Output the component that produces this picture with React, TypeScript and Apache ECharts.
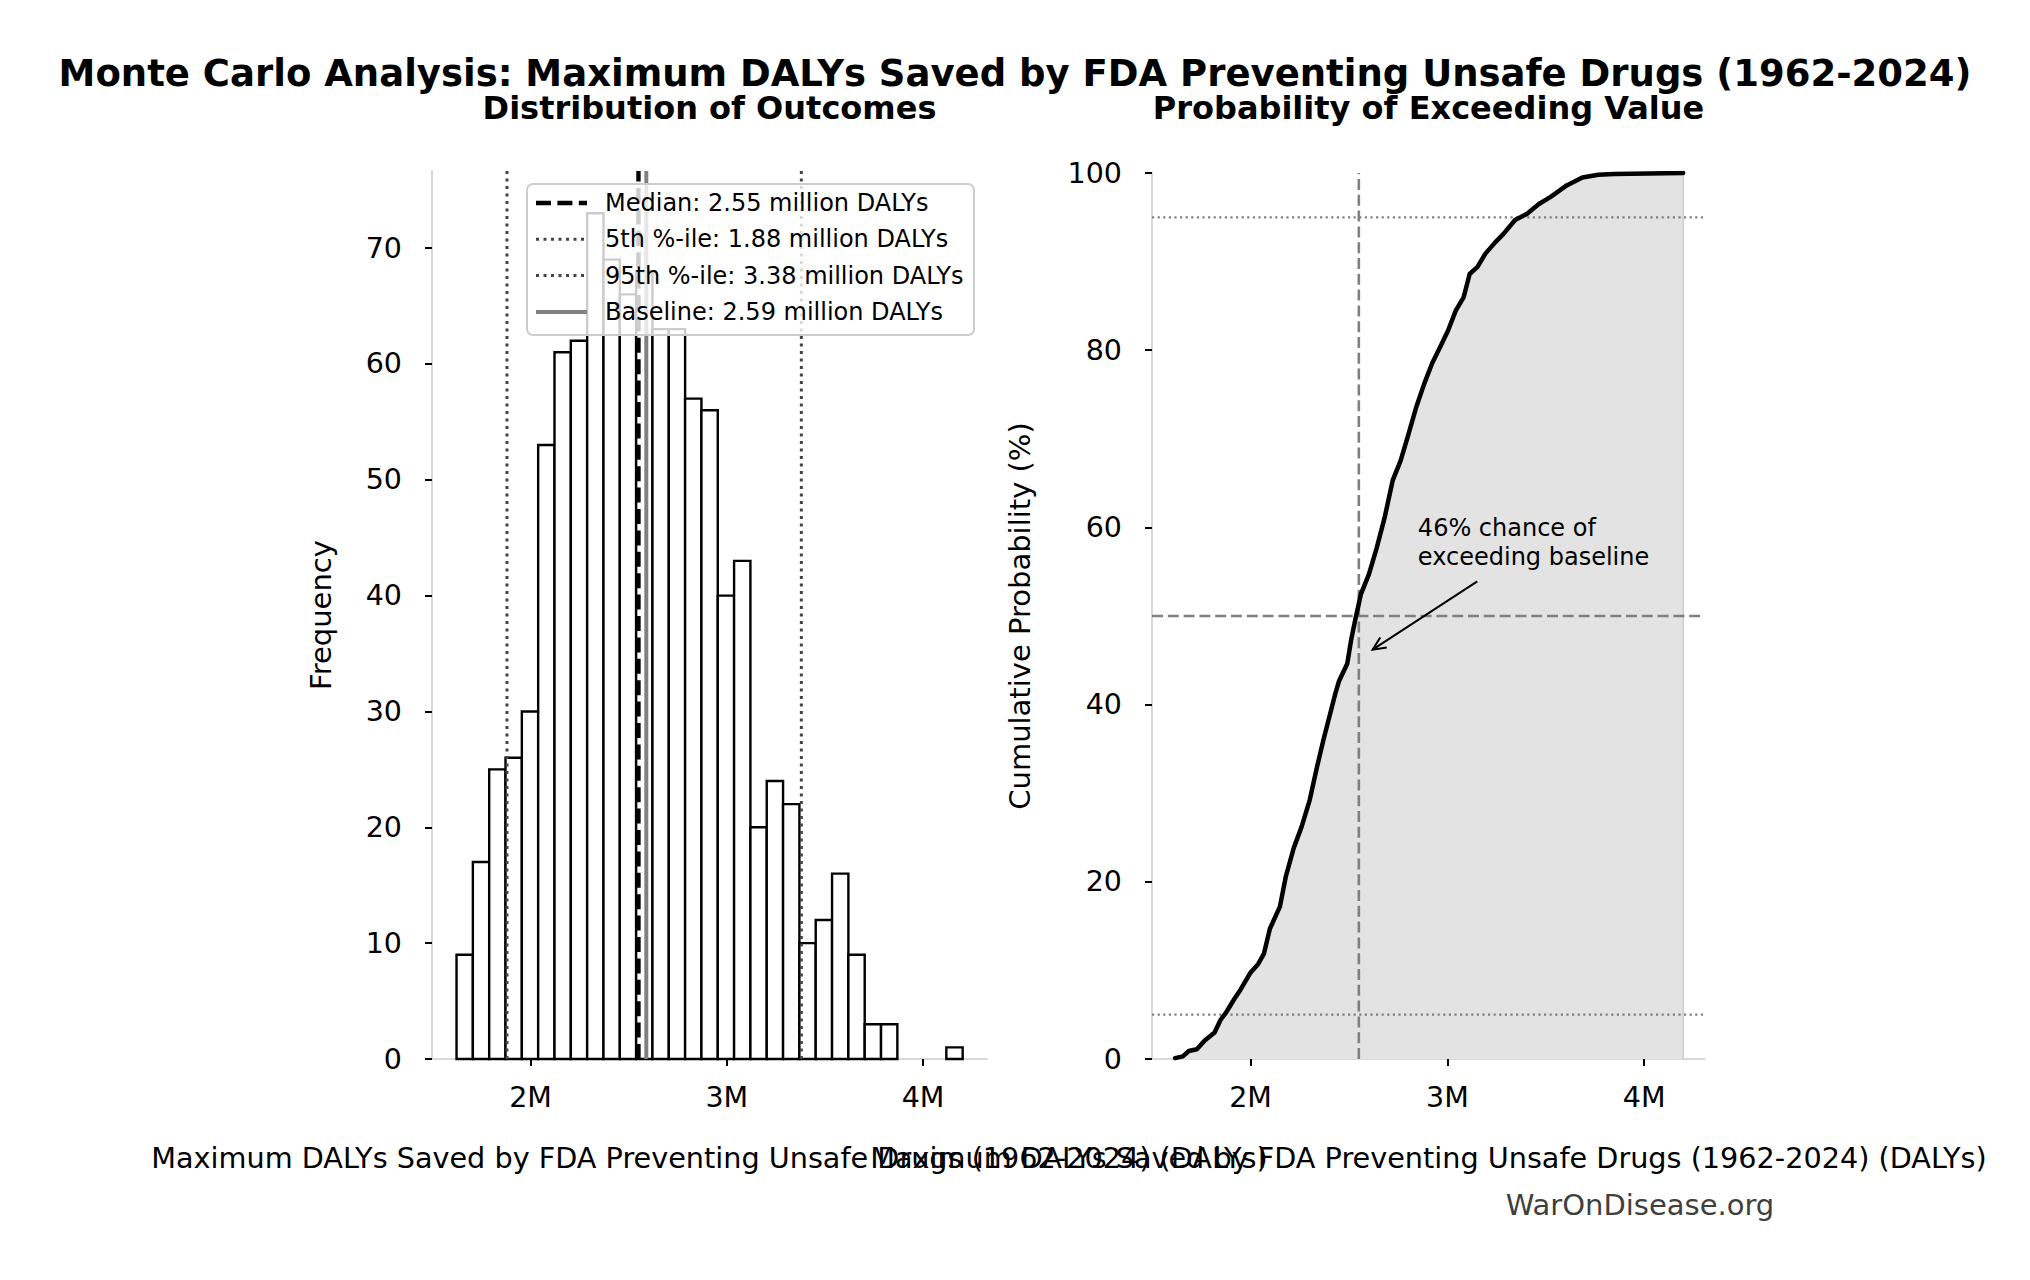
import React, { useEffect, useRef } from "react";
import * as echarts from "echarts";

const FONT = '"DejaVu Sans"';

// ---- Data (values in million DALYs) ----
const histBinMin = 1.623;
const histBinMax = 4.202;
const histCounts = [9, 17, 25, 26, 30, 53, 61, 62, 73, 69, 66, 68, 63, 63, 57, 56, 40, 43, 20, 24, 22, 10, 12, 16, 9, 3, 3, 0, 0, 0, 1];
const histYMax = 76.65;

const medianValue = 2.55;
const p5Value = 1.88;
const p95Value = 3.38;
const baselineValue = 2.59;

const cdfX = [1.616, 1.656, 1.686, 1.727, 1.767, 1.817, 1.847, 1.877, 1.918, 1.948, 1.998, 2.038, 2.068, 2.098, 2.149, 2.179, 2.219, 2.259, 2.3, 2.34, 2.37, 2.4, 2.43, 2.45, 2.491, 2.511, 2.531, 2.561, 2.601, 2.641, 2.681, 2.722, 2.762, 2.802, 2.842, 2.882, 2.922, 2.962, 3.003, 3.043, 3.083, 3.113, 3.153, 3.193, 3.244, 3.284, 3.344, 3.405, 3.465, 3.525, 3.606, 3.686, 3.767, 3.847, 4.198];
const cdfY = [0.1, 0.3, 0.9, 1.1, 2.1, 3.0, 4.4, 5.3, 6.8, 7.8, 9.7, 10.7, 11.9, 14.7, 17.2, 20.6, 23.8, 26.2, 29.2, 33.2, 36.0, 38.6, 41.2, 42.7, 44.6, 47.3, 49.5, 52.5, 54.7, 57.7, 61.1, 65.3, 67.5, 70.5, 73.6, 76.2, 78.5, 80.3, 82.2, 84.5, 86.0, 88.6, 89.4, 90.9, 92.2, 93.1, 94.7, 95.4, 96.5, 97.3, 98.6, 99.5, 99.8, 99.9, 100];

const xTickValues = [2, 3, 4];
const histYTicks = [0, 10, 20, 30, 40, 50, 60, 70];
const cdfYTicks = [0, 20, 40, 60, 80, 100];

const exceedChance = 46;
const xMinHist = 1.498;
const xMaxHist = 4.326;
const xMinCdf = 1.499;
const xMaxCdf = 4.309;

const mainTitle = "Monte Carlo Analysis: Maximum DALYs Saved by FDA Preventing Unsafe Drugs (1962-2024)";
const subTitles = ["Distribution of Outcomes", "Probability of Exceeding Value"];
const xAxisName = "Maximum DALYs Saved by FDA Preventing Unsafe Drugs (1962-2024) (DALYs)";
const watermark = "WarOnDisease.org";

// annotation anchors in data coordinates (million DALYs, %)
const arrowTip = [2.62, 46.2];
const arrowTail = [3.152, 53.9];
const annotAnchor = [2.85, 58.3];

const fmt = (v: number) => v.toFixed(2);

export default function App() {
  const ref = useRef<HTMLDivElement>(null);

  useEffect(() => {
    const chart = echarts.init(ref.current!, null, { renderer: "svg" });
    const binW = (histBinMax - histBinMin) / histCounts.length;
    const histData = histCounts
      .map((c, i) => [histBinMin + i * binW, histBinMin + (i + 1) * binW, c])
      .filter((d) => d[2] > 0);
    const cdfData = cdfX.map((x, i) => [x, cdfY[i]]);

    const axisLineStyle = { color: "#d9d9d9", width: 2 };
    const tickStyle = { show: true, length: 7, inside: false, lineStyle: { color: "#000", width: 2 } };
    const labelStyle = { color: "#000", fontSize: 28.5, fontFamily: FONT };
    const nameStyle = { color: "#000", fontSize: 29, fontFamily: FONT };
    const xNameStyle = { color: "#000", fontSize: 28.7, fontFamily: FONT };

    const vline = (xi: number, yi: number, v: number, y0: number, y1: number, color: string, width: number, type: any, z: number) => ({
      type: "line",
      xAxisIndex: xi,
      yAxisIndex: yi,
      data: [[v, y0], [v, y1]],
      symbol: "none",
      silent: true,
      z,
      lineStyle: { color, width, type, cap: "butt" },
    });
    const hline = (xi: number, yi: number, v: number, x0: number, x1: number, color: string, width: number, type: any, z: number) => ({
      type: "line",
      xAxisIndex: xi,
      yAxisIndex: yi,
      data: [[x0, v], [x1, v]],
      symbol: "none",
      silent: true,
      z,
      lineStyle: { color, width, type, cap: "butt" },
    });

    const dotStyle = { color: "#444444", width: 3, dash: [3, 4.5] };

    const option: any = {
      animation: false,
      backgroundColor: "#ffffff",
      grid: [
        { left: 432, top: 171, width: 555, height: 888 },
        { left: 1152, top: 173, width: 553, height: 886 },
      ],
      xAxis: [
        {
          type: "value", gridIndex: 0, min: xMinHist, max: xMaxHist,
          axisLine: { lineStyle: axisLineStyle },
          axisTick: { ...tickStyle, customValues: xTickValues },
          axisLabel: { ...labelStyle, customValues: xTickValues, margin: 24, formatter: (v: number) => `${v}M` },
          splitLine: { show: false },
          name: xAxisName, nameLocation: "middle", nameGap: 84.5,
          nameTextStyle: xNameStyle,
        },
        {
          type: "value", gridIndex: 1, min: xMinCdf, max: xMaxCdf,
          axisLine: { lineStyle: axisLineStyle },
          axisTick: { ...tickStyle, customValues: xTickValues },
          axisLabel: { ...labelStyle, customValues: xTickValues, margin: 24, formatter: (v: number) => `${v}M` },
          splitLine: { show: false },
          name: xAxisName, nameLocation: "middle", nameGap: 84.5,
          nameTextStyle: xNameStyle,
        },
      ],
      yAxis: [
        {
          type: "value", gridIndex: 0, min: 0, max: histYMax,
          axisLine: { show: true, lineStyle: axisLineStyle },
          axisTick: { ...tickStyle, customValues: histYTicks },
          axisLabel: { ...labelStyle, customValues: histYTicks, margin: 30 },
          splitLine: { show: false },
          name: "Frequency", nameLocation: "middle", nameGap: 97, nameRotate: 90,
          nameTextStyle: nameStyle,
        },
        {
          type: "value", gridIndex: 1, min: 0, max: 100,
          axisLine: { show: true, lineStyle: axisLineStyle },
          axisTick: { ...tickStyle, customValues: cdfYTicks },
          axisLabel: { ...labelStyle, customValues: cdfYTicks, margin: 30 },
          splitLine: { show: false },
          name: "Cumulative Probability (%)", nameLocation: "middle", nameGap: 118, nameRotate: 90,
          nameTextStyle: nameStyle,
        },
      ],
      series: [
        {
          type: "custom",
          name: "Histogram",
          xAxisIndex: 0,
          yAxisIndex: 0,
          z: 2,
          silent: true,
          data: histData,
          encode: { x: [0, 1], y: 2 },
          renderItem: (params: any, api: any) => {
            const p0 = api.coord([api.value(0), api.value(2)]);
            const p1 = api.coord([api.value(1), 0]);
            return {
              type: "rect",
              shape: { x: p0[0], y: p0[1], width: p1[0] - p0[0], height: p1[1] - p0[1] },
              style: { fill: "#ffffff", stroke: "#000000", lineWidth: 2.4 },
            };
          },
        },
        vline(0, 0, p5Value, 0, histYMax, dotStyle.color, dotStyle.width, dotStyle.dash, 3),
        vline(0, 0, p95Value, 0, histYMax, dotStyle.color, dotStyle.width, dotStyle.dash, 3),
        vline(0, 0, medianValue, 0, histYMax, "#000000", 4.4, [15, 6.4], 4),
        vline(0, 0, baselineValue, 0, histYMax, "#808080", 4, "solid", 4),
        // CDF panel
        {
          type: "line",
          name: "CDF fill",
          xAxisIndex: 1,
          yAxisIndex: 1,
          data: cdfData,
          symbol: "none",
          silent: true,
          z: 1,
          lineStyle: { width: 0, opacity: 0 },
          areaStyle: { color: "#e3e3e3", opacity: 1 },
        },
        vline(1, 1, cdfX[cdfX.length - 1], 0, 100, "#d2d2d2", 2, "solid", 2),
        vline(1, 1, medianValue, 0, 100, "#808080", 2.6, [11, 4.8], 3),
        hline(1, 1, 50, xMinCdf, xMaxCdf, "#808080", 2.6, [11, 4.8], 3),
        hline(1, 1, 5, xMinCdf, xMaxCdf, "#808080", 2.2, [2.2, 3.4], 3),
        hline(1, 1, 95, xMinCdf, xMaxCdf, "#808080", 2.2, [2.2, 3.4], 3),
        {
          type: "line",
          name: "Cumulative probability",
          xAxisIndex: 1,
          yAxisIndex: 1,
          data: cdfData,
          symbol: "none",
          silent: true,
          z: 5,
          lineStyle: { color: "#000000", width: 4.5, join: "round", cap: "round" },
        },
      ],
    };

    chart.setOption(option);

    // Legend (upper right of histogram) and texts
    const legendItems = [
      { label: `Median: ${fmt(medianValue)} million DALYs`, color: "#000000", width: 4.4, dash: [15, 6.4] },
      { label: `5th %-ile: ${fmt(p5Value)} million DALYs`, color: dotStyle.color, width: dotStyle.width, dash: dotStyle.dash },
      { label: `95th %-ile: ${fmt(p95Value)} million DALYs`, color: dotStyle.color, width: dotStyle.width, dash: dotStyle.dash },
      { label: `Baseline: ${fmt(baselineValue)} million DALYs`, color: "#808080", width: 4, dash: null },
    ];
    const lgX = 527, lgY = 184, lgW = 447, lgH = 151;
    const legendEls: any[] = [
      {
        type: "rect", z: 100, silent: true,
        shape: { x: lgX, y: lgY, width: lgW, height: lgH, r: 6 },
        style: { fill: "rgba(255,255,255,0.8)", stroke: "#cccccc", lineWidth: 2 },
      },
    ];
    legendItems.forEach((it, i) => {
      const cy = lgY + 19 + i * 36.3;
      legendEls.push({
        type: "line", z: 101, silent: true,
        shape: { x1: lgX + 9, y1: cy, x2: lgX + 60, y2: cy },
        style: { stroke: it.color, lineWidth: it.width, lineDash: it.dash || undefined, lineCap: "butt" },
      });
      legendEls.push({
        type: "text", z: 101, silent: true, x: lgX + 78, y: cy,
        style: { text: it.label, font: `24px ${FONT}`, fill: "#000", textAlign: "left", textVerticalAlign: "middle" },
      });
    });

    // annotation in the CDF panel
    const tip = chart.convertToPixel({ gridIndex: 1 }, arrowTip) as number[];
    const tail = chart.convertToPixel({ gridIndex: 1 }, arrowTail) as number[];
    const anc = chart.convertToPixel({ gridIndex: 1 }, annotAnchor) as number[];
    const dx = tip[0] - tail[0], dy = tip[1] - tail[1];
    const len = Math.hypot(dx, dy);
    const ux = dx / len, uy = dy / len;
    const hl = 13, hw = 6;
    const annotEls: any[] = [
      {
        type: "line", z: 50, silent: true,
        shape: { x1: tail[0], y1: tail[1], x2: tip[0], y2: tip[1] },
        style: { stroke: "#000", lineWidth: 2 },
      },
      {
        type: "polyline", z: 50, silent: true,
        shape: {
          points: [
            [tip[0] - hl * ux - hw * uy, tip[1] - hl * uy + hw * ux],
            [tip[0], tip[1]],
            [tip[0] - hl * ux + hw * uy, tip[1] - hl * uy - hw * ux],
          ],
        },
        style: { stroke: "#000", lineWidth: 2, fill: "none" },
      },
      {
        type: "text", z: 50, silent: true, x: anc[0], y: anc[1],
        style: {
          text: `${exceedChance}% chance of\nexceeding baseline`,
          font: `24px ${FONT}`, lineHeight: 29, fill: "#000",
          textAlign: "left", textVerticalAlign: "middle",
        },
      },
    ];

    const titleEls: any[] = [
      {
        type: "text", silent: true, x: 1015, y: 73,
        style: { text: mainTitle, font: `bold 37px ${FONT}`, fill: "#000", textAlign: "center", textVerticalAlign: "middle" },
      },
      {
        type: "text", silent: true, x: 709.5, y: 108,
        style: { text: subTitles[0], font: `bold 32px ${FONT}`, fill: "#000", textAlign: "center", textVerticalAlign: "middle" },
      },
      {
        type: "text", silent: true, x: 1428.5, y: 108,
        style: { text: subTitles[1], font: `bold 32px ${FONT}`, fill: "#000", textAlign: "center", textVerticalAlign: "middle" },
      },
      {
        type: "text", silent: true, x: 1640, y: 1205,
        style: { text: watermark, font: `29px ${FONT}`, fill: "#3f3f3f", textAlign: "center", textVerticalAlign: "middle" },
      },
    ];

    chart.setOption({ graphic: [...legendEls, ...annotEls, ...titleEls] });

    return () => chart.dispose();
  }, []);

  return <div ref={ref} style={{ position: "fixed", left: 0, top: 0, width: 2030, height: 1280, background: "#fff" }} />;
}
